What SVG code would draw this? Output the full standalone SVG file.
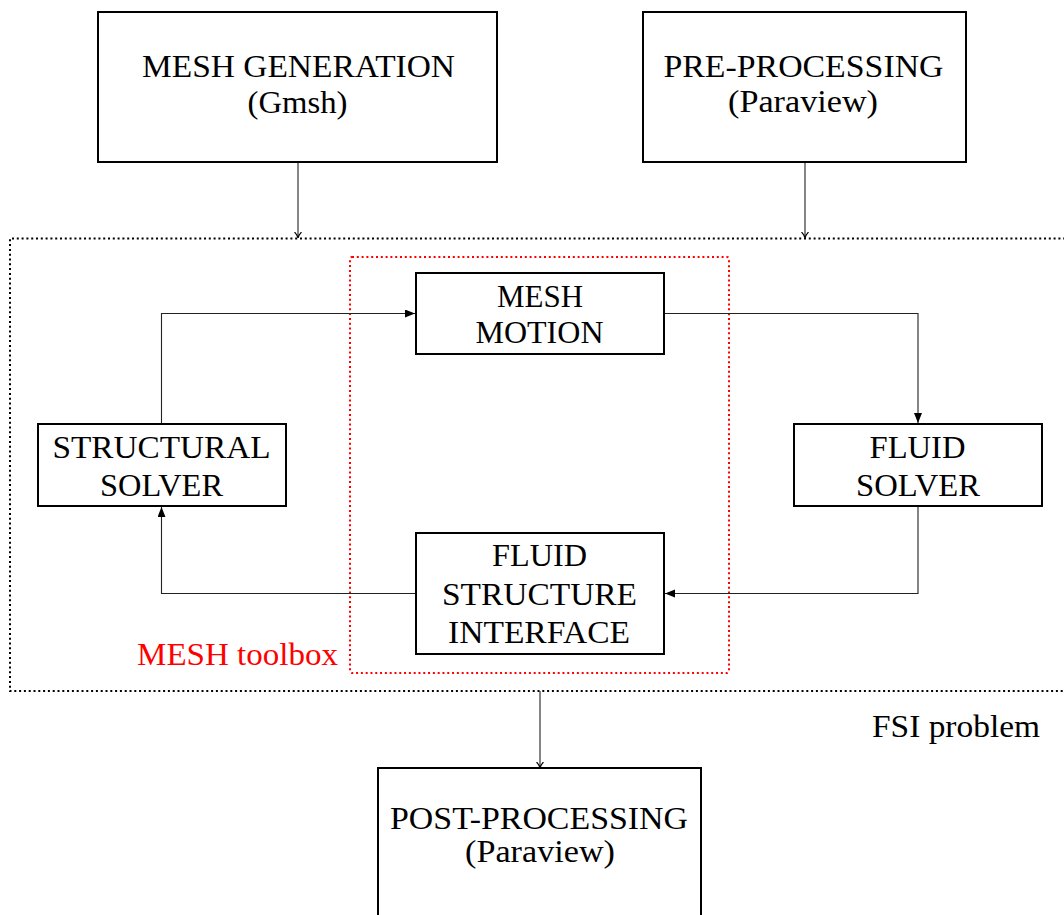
<svg xmlns="http://www.w3.org/2000/svg" width="1064" height="915" viewBox="0 0 1064 915">
  <style>
    .box { fill: #fff; stroke: #000; stroke-width: 2; }
    .lbl { font-family: "Liberation Serif", "DejaVu Serif", serif; font-size: 32px; fill: #000; text-anchor: middle; }
    .wire { fill: none; stroke: #222; stroke-width: 1.1; }
    .frame { fill: none; stroke: #000; stroke-width: 2; stroke-dasharray: 2 2.8; }
    .toolbox { fill: none; stroke: #ff0000; stroke-width: 2; stroke-dasharray: 2 2.8; }
  </style>
  <defs>
    <marker id="latex" markerUnits="userSpaceOnUse" markerWidth="11" markerHeight="9" refX="10" refY="4" orient="auto">
      <path d="M0,0 L10,4 L0,8 z" fill="#000"/>
    </marker>
    <marker id="to" markerUnits="userSpaceOnUse" markerWidth="10" markerHeight="10" refX="6" refY="4" orient="auto">
      <path d="M0,0.5 Q3,3.5 6,4 Q3,4.5 0,7.5" fill="none" stroke="#000" stroke-width="1.1"/>
    </marker>
  </defs>

  <!-- FSI problem frame and MESH toolbox frame -->
  <g id="fsi-frame">
    <path class="frame" d="M1070,238.5 H10 V691 H1070"/>
    <text class="lbl" x="956" y="737" textLength="168" lengthAdjust="spacingAndGlyphs">FSI problem</text>
  </g>
  <g id="mesh-toolbox">
    <rect class="toolbox" x="350" y="257" width="379" height="416" rx="2"/>
    <text class="lbl" x="237.5" y="665" style="fill:#ff0000" textLength="201" lengthAdjust="spacingAndGlyphs">MESH toolbox</text>
  </g>

  <!-- connectors -->
  <g id="connectors">
    <path class="wire" d="M298,162 V238" marker-end="url(#to)"/>
    <path class="wire" d="M805,162 V238" marker-end="url(#to)"/>
    <path class="wire" d="M540,691 V768" marker-end="url(#to)"/>
    <path class="wire" d="M161.5,424 V313.5 H415" marker-end="url(#latex)"/>
    <path class="wire" d="M665,313.5 H918 V423" marker-end="url(#latex)"/>
    <path class="wire" d="M918,506 V593.5 H665" marker-end="url(#latex)"/>
    <path class="wire" d="M415,593.5 H161.5 V507" marker-end="url(#latex)"/>
  </g>

  <!-- nodes -->
  <g id="mesh-generation">
    <rect class="box" x="98" y="12" width="399" height="150"/>
    <text class="lbl" x="298.5" y="77" textLength="313" lengthAdjust="spacingAndGlyphs">MESH GENERATION</text>
    <text class="lbl" x="297.5" y="113" textLength="100" lengthAdjust="spacingAndGlyphs">(Gmsh)</text>
  </g>
  <g id="pre-processing">
    <rect class="box" x="643" y="12" width="323" height="150"/>
    <text class="lbl" x="803.5" y="77" textLength="280" lengthAdjust="spacingAndGlyphs">PRE-PROCESSING</text>
    <text class="lbl" x="803" y="112" textLength="150" lengthAdjust="spacingAndGlyphs">(Paraview)</text>
  </g>
  <g id="mesh-motion">
    <rect class="box" x="416" y="273" width="248" height="81"/>
    <text class="lbl" x="540" y="307" textLength="86" lengthAdjust="spacingAndGlyphs">MESH</text>
    <text class="lbl" x="539.5" y="343" textLength="128" lengthAdjust="spacingAndGlyphs">MOTION</text>
  </g>
  <g id="structural-solver">
    <rect class="box" x="38" y="424" width="248" height="82"/>
    <text class="lbl" x="161.5" y="458" textLength="218" lengthAdjust="spacingAndGlyphs">STRUCTURAL</text>
    <text class="lbl" x="161.5" y="496" textLength="123" lengthAdjust="spacingAndGlyphs">SOLVER</text>
  </g>
  <g id="fluid-solver">
    <rect class="box" x="794" y="424" width="248" height="82"/>
    <text class="lbl" x="917.5" y="458" textLength="96" lengthAdjust="spacingAndGlyphs">FLUID</text>
    <text class="lbl" x="918" y="496" textLength="124" lengthAdjust="spacingAndGlyphs">SOLVER</text>
  </g>
  <g id="fluid-structure-interface">
    <rect class="box" x="416" y="533" width="248" height="121"/>
    <text class="lbl" x="539.5" y="566" textLength="95" lengthAdjust="spacingAndGlyphs">FLUID</text>
    <text class="lbl" x="539.5" y="605" textLength="195" lengthAdjust="spacingAndGlyphs">STRUCTURE</text>
    <text class="lbl" x="539" y="643" textLength="182" lengthAdjust="spacingAndGlyphs">INTERFACE</text>
  </g>
  <g id="post-processing">
    <rect class="box" x="378" y="768" width="323" height="160"/>
    <text class="lbl" x="539" y="829" textLength="298" lengthAdjust="spacingAndGlyphs">POST-PROCESSING</text>
    <text class="lbl" x="540" y="862" textLength="150" lengthAdjust="spacingAndGlyphs">(Paraview)</text>
  </g>
</svg>
